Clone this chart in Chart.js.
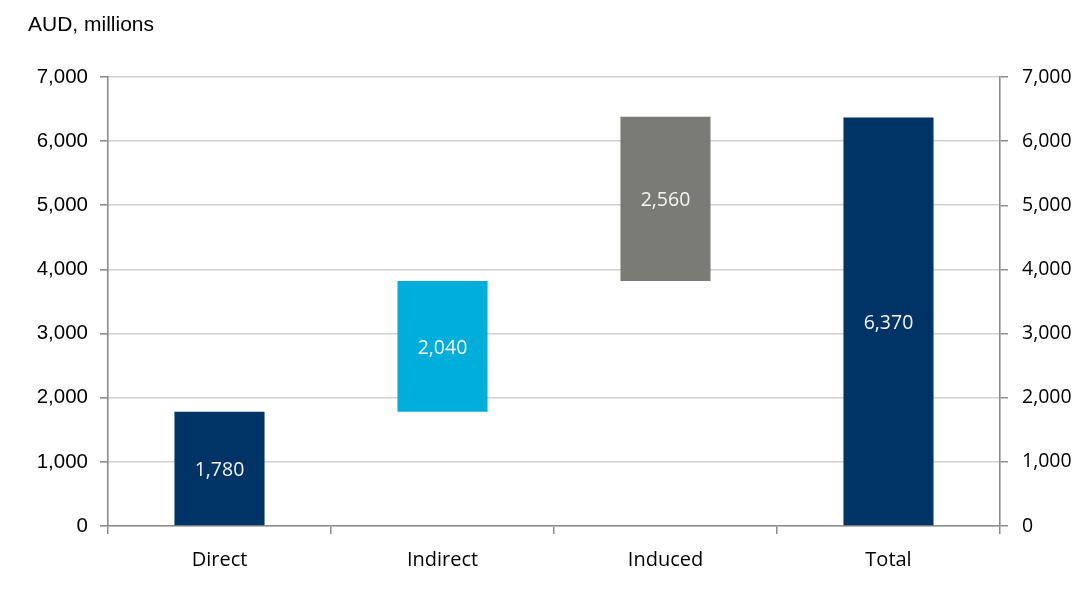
<!DOCTYPE html>
<html>
<head>
<meta charset="utf-8">
<script src="https://cdn.jsdelivr.net/npm/chart.js@4"></script>
<style>
html,body{margin:0;padding:0;background:#fff;}
#wrap{width:1085px;height:589px;position:relative;}
</style>
</head>
<body>
<div id="wrap"><canvas id="c"></canvas></div>
<script>
const categories = ['Direct', 'Indirect', 'Induced', 'Total'];
const barStarts = [0, 1780, 3820, 0];
const barEnds = [1780, 3820, 6380, 6370];
const barLabels = ['1,780', '2,040', '2,560', '6,370'];
const barColors = ['#003366', '#00AEDB', '#7B7B75', '#003366'];
const unitLabel = 'AUD, millions';

const floating = categories.map((c, i) => [barStarts[i], barEnds[i]]);

const labelPlugin = {
  id: 'barLabels',
  afterDatasetsDraw(chart) {
    const ctx = chart.ctx;
    const meta = chart.getDatasetMeta(0);
    ctx.save();
    ctx.font = '19.5px "Open Sans"';
    ctx.fillStyle = '#f4f4f4';
    ctx.textAlign = 'center';
    ctx.textBaseline = 'middle';
    meta.data.forEach((bar, i) => {
      const p = bar.getProps(['x', 'y', 'base'], true);
      ctx.fillText(barLabels[i], p.x, (p.y + p.base) / 2 + 2);
    });
    ctx.restore();
  }
};

const titlePlugin = {
  id: 'unitTitle',
  afterDraw(chart) {
    const ctx = chart.ctx;
    ctx.save();
    ctx.font = '21px "Liberation Sans"';
    ctx.fillStyle = '#000';
    ctx.textAlign = 'left';
    ctx.textBaseline = 'alphabetic';
    ctx.fillText(unitLabel, 28, 31);
    ctx.restore();
  }
};

new Chart(document.getElementById('c'), {
  type: 'bar',
  data: {
    labels: categories,
    datasets: [{
      data: floating,
      backgroundColor: barColors,
      borderWidth: 0,
      barPercentage: 0.404,
      categoryPercentage: 1.0
    }]
  },
  options: {
    responsive: true,
    maintainAspectRatio: false,
    animation: false,
    layout: { padding: { top: 77, left: 0, right: 0, bottom: 0 } },
    plugins: { legend: { display: false }, tooltip: { enabled: false } },
    scales: {
      x: {
        afterFit(s) { s.height = 63; },
        grid: {
          offset: true,
          drawOnChartArea: false,
          drawTicks: true,
          tickLength: 8,
          tickColor: '#8c8c8c',
          lineWidth: 1.5
        },
        border: { color: '#8c8c8c', width: 1.5 },
        ticks: {
          color: '#000',
          padding: 14,
          font: { family: '"Open Sans"', size: 20 }
        }
      },
      y: {
        position: 'left',
        min: 0, max: 7000,
        afterFit(s) { s.width = 108; },
        grid: {
          color: '#d0d0cc',
          lineWidth: 1.6,
          tickLength: 8,
          tickColor: '#8c8c8c'
        },
        border: { color: '#8c8c8c', width: 1.6 },
        ticks: {
          stepSize: 1000,
          color: '#000',
          padding: 12,
          font: { family: '"Liberation Sans"', size: 20.5 },
          callback: v => v.toLocaleString('en-US')
        }
      },
      y2: {
        position: 'right',
        min: 0, max: 7000,
        afterFit(s) { s.width = 85; },
        grid: {
          drawOnChartArea: false,
          tickLength: 8,
          tickColor: '#8c8c8c',
          lineWidth: 1.5
        },
        border: { color: '#8c8c8c', width: 1.6 },
        ticks: {
          stepSize: 1000,
          color: '#000',
          padding: 14,
          font: { family: '"Open Sans"', size: 19.5 },
          callback: v => v.toLocaleString('en-US')
        }
      }
    }
  },
  plugins: [labelPlugin, titlePlugin]
});
</script>
</body>
</html>
